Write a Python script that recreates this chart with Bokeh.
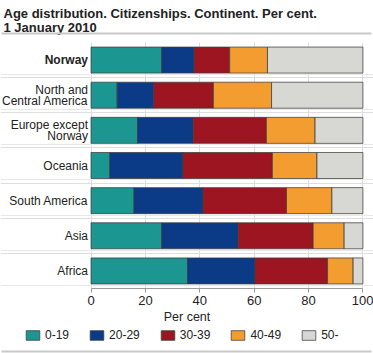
from bokeh.plotting import figure
from bokeh.layouts import column
from bokeh.core.properties import value
from bokeh.models import (Range1d, Label, LabelSet, ColumnDataSource, Grid,
                          Legend, LegendItem, BoxAnnotation, FixedTicker)
from bokeh.embed import file_html
from bokeh.resources import INLINE

# ---- data ----
continents = ["Norway", "North and Central America", "Europe except Norway",
              "Oceania", "South America", "Asia", "Africa"]
display_labels = ["Norway", "North and\nCentral America", "Europe except\nNorway",
                  "Oceania", "South America", "Asia", "Africa"]
age_groups = ["0-19", "20-29", "30-39", "40-49", "50-"]
age_0_19 = [26.0, 9.6, 17.1, 6.9, 15.8, 26.0, 35.5]
age_20_29 = [11.9, 13.5, 20.5, 26.9, 25.4, 28.1, 24.8]
age_30_39 = [13.1, 21.9, 26.9, 32.9, 30.7, 27.6, 26.7]
age_40_49 = [13.9, 21.4, 17.9, 16.4, 16.7, 11.4, 9.4]
age_50_plus = [35.1, 33.6, 17.6, 16.9, 11.4, 6.9, 3.6]
x_ticks = [0, 20, 40, 60, 80, 100]
title_lines = ["Age distribution. Citizenships. Continent. Per cent.", "1 January 2010"]

colors = ["#1b9690", "#0b3a87", "#9c1520", "#f39c2f", "#d7d7d3"]
FONT = "Liberation Sans"
TXT = "#222222"
RULE = "#c8c8c8"
keys = ["a0", "a1", "a2", "a3", "a4"]
W = 373
LINE_GAP = 11  # px between the lines of a wrapped category label


def bare(fig):
    fig.outline_line_color = None
    fig.xaxis.visible = False
    fig.yaxis.visible = False
    fig.xgrid.visible = False
    fig.ygrid.visible = False
    return fig


# ---------- header: title + rule ----------
head = bare(figure(width=W, height=42, x_range=Range1d(0, 1), y_range=Range1d(0, 1),
                   output_backend="svg", toolbar_location=None, min_border=0))
head.add_layout(Label(x=3, y=37, x_units="screen", y_units="screen", text=title_lines[0],
                      text_font=FONT, text_font_size="13px", text_font_style="bold",
                      text_color=TXT, text_baseline="top"))
head.add_layout(Label(x=3, y=23, x_units="screen", y_units="screen", text=title_lines[1],
                      text_font=FONT, text_font_size="13px", text_font_style="bold",
                      text_color=TXT, text_baseline="top"))
head.add_layout(BoxAnnotation(bottom=8, top=10, bottom_units="screen", top_units="screen",
                              left=1, right=W - 2, left_units="screen", right_units="screen",
                              fill_color=RULE, fill_alpha=1, line_color=None))

# ---------- main chart ----------
n = len(continents)
ypos = list(range(n))[::-1]          # Norway at the top
src = ColumnDataSource(dict(continent=continents, y=ypos, a0=age_0_19, a1=age_20_29,
                            a2=age_30_39, a3=age_40_49, a4=age_50_plus,
                            zero=[0] * n))

p = figure(width=W, height=287,
           x_range=Range1d(-33.3, 103.9), y_range=Range1d(-0.5, 6.5),
           output_backend="svg", toolbar_location=None,
           min_border_left=0, min_border_right=0, min_border_top=0,
           min_border_bottom=41)
p.outline_line_color = None
p.yaxis.visible = False
p.ygrid.visible = False
p.xgrid.ticker = FixedTicker(ticks=x_ticks)
p.xgrid.grid_line_color = "#dddddd"

# light horizontal lines at category boundaries and just under each bar
p.add_layout(Grid(dimension=1, ticker=FixedTicker(ticks=[y + 0.5 for y in ypos]),
                  grid_line_color="#dedede", level="underlay", bounds=(0, 100)))
p.add_layout(Grid(dimension=1, ticker=FixedTicker(ticks=[y - 0.41 for y in ypos]),
                  grid_line_color="#e8e8e8", level="underlay"))

rs = p.hbar_stack(keys, y="y", height=0.74, color=colors, source=src,
                  line_color="#3d3d3d", line_alpha=0.75, line_width=1)

ax = p.xaxis[0]
ax.ticker = FixedTicker(ticks=x_ticks)
ax.bounds = (0, 100)
ax.major_label_text_font = FONT
ax.major_label_text_font_size = "13px"
ax.major_label_text_color = TXT
ax.axis_line_color = "#999999"
ax.major_tick_line_color = "#999999"
ax.major_tick_out = 4
ax.major_tick_in = 0
ax.minor_tick_line_color = None
ax.major_label_standoff = 3
ax.axis_label = "Per cent"
ax.axis_label_text_font = FONT
ax.axis_label_text_font_size = "12.5px"
ax.axis_label_text_font_style = "normal"
ax.axis_label_text_color = TXT
ax.axis_label_standoff = 2

# category labels: each line right-aligned on its own
line_y, line_text, line_off, line_style = [], [], [], []
for i, lab in enumerate(display_labels):
    parts = lab.split("\n")
    m = len(parts)
    for k, part in enumerate(parts):
        line_y.append(ypos[i])
        line_text.append(part)
        line_off.append(((m - 1) / 2 - k) * LINE_GAP)
        line_style.append("bold" if i == 0 else "normal")
lab_src = ColumnDataSource(dict(y=line_y, text=line_text, yoff=line_off,
                                style=line_style, zero=[0] * len(line_y)))
p.add_layout(LabelSet(x="zero", y="y", text="text", source=lab_src,
                      x_offset=-3, y_offset="yoff", text_align="right",
                      text_baseline="middle", text_font=value(FONT),
                      text_font_size=value("12px"), text_font_style="style",
                      text_color=TXT))

# ---------- footer: legend + rule ----------
foot = bare(figure(width=W, height=24, x_range=Range1d(0, 1), y_range=Range1d(0, 1),
                   output_backend="svg", toolbar_location=None, min_border=0))
# legend swatches: one off-screen bar per age group (keeps legend glyphs drawable)
swatches = [foot.hbar(y=[-5], left=[0], right=[1], height=1, fill_color=c,
                      line_color="#3d3d3d", line_alpha=0.75) for c in colors]
legend = Legend(items=[LegendItem(label=age_groups[i], renderers=[swatches[i]]) for i in range(5)],
                location=(24, 11), orientation="horizontal", glyph_width=17, glyph_height=12,
                label_standoff=4, spacing=19, padding=0, margin=0,
                border_line_color=None, background_fill_alpha=0,
                label_text_font=FONT, label_text_font_size="12px",
                label_text_color=TXT, label_height=12)
foot.add_layout(legend)
foot.add_layout(BoxAnnotation(bottom=1, top=3, bottom_units="screen", top_units="screen",
                              left=1, right=W - 2, left_units="screen", right_units="screen",
                              fill_color=RULE, fill_alpha=1, line_color=None))

layout = column(head, p, foot, spacing=0)
open("out.html", "w").write(file_html(layout, INLINE))
